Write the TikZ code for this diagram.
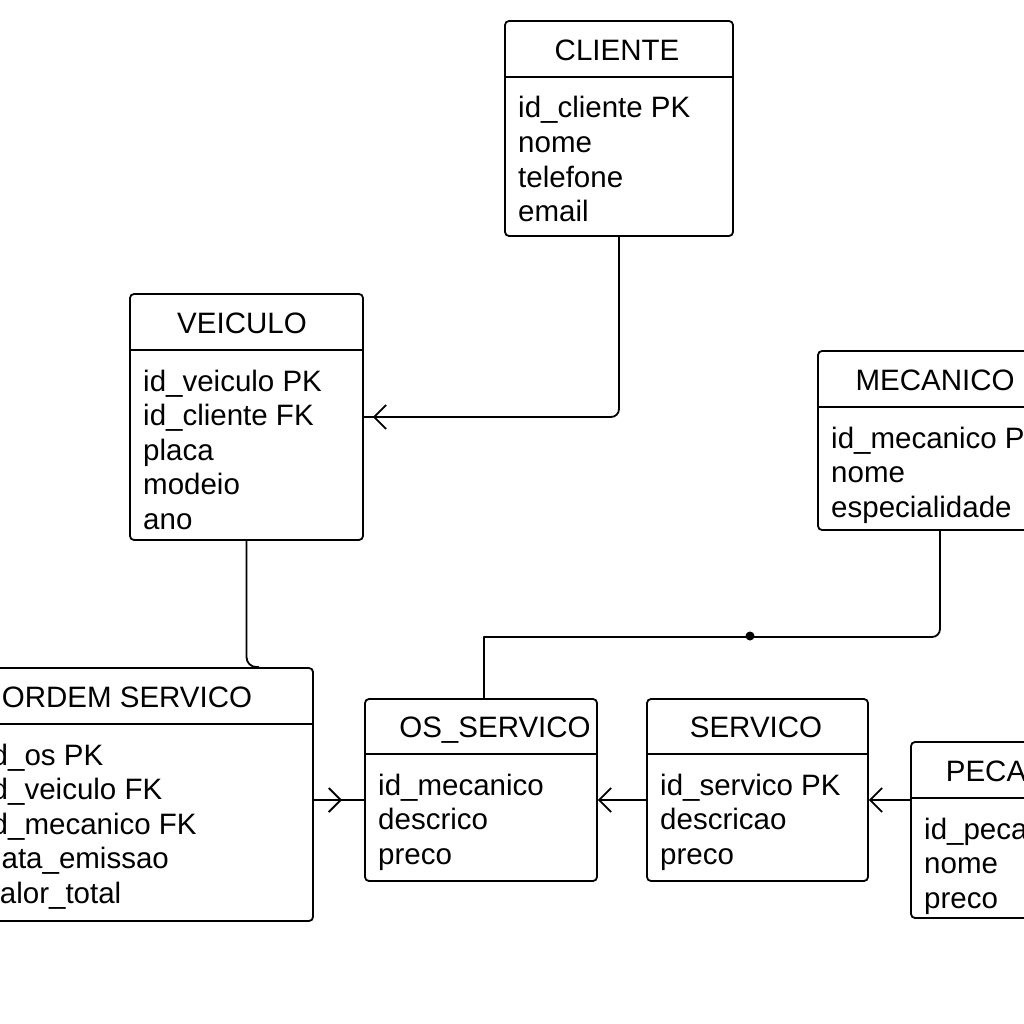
\documentclass[tikz,border=0pt]{standalone}
\usepackage{fontspec}
\setmainfont{Liberation Sans}
\usetikzlibrary{arrows.meta,decorations.markings}

\tikzset{
  erbox/.style={draw, line width=1.8pt, rounded corners=4pt, inner sep=0pt},
  ertitle/.style={anchor=base, inner sep=0pt, font=\fontsize{29.5}{35}\selectfont},
  erattr/.style={anchor=base west, inner sep=0pt, font=\fontsize{29.5}{35}\selectfont},
  erline/.style={line width=1.8pt},
  conn/.style={line width=1.8pt, line cap=round, line join=round},
  barb/.tip={Straight Barb[length=12pt, width=24pt]},
  markarrow/.style={postaction={decorate},
    decoration={markings, mark=at position #1 with {\arrow{barb}}}}
}

% name, left, top, right, bottom, separator, title x, title, rows
\newcommand{\entitybox}[9]{%
  \node[erbox, minimum width={(#4)-(#2)}, minimum height={(#5)-(#3)}] (#1)
    at ({((#2)+(#4))/2},{((#3)+(#5))/2}) {};
  \draw[erline] (#1.west |- 0,#6) -- (#1.east |- 0,#6);
  \node[ertitle] (#1-title) at (#7,{#6-16.5}) {#8};
  \foreach \row [count=\i] in {#9}
    \node[erattr] (#1-\i) at ({(#2)+13},{#6+41+34.6*(\i-1)}) {\row};
}

\begin{document}
\begin{tikzpicture}[x=1pt, y=-1pt]
  \useasboundingbox (0,0) rectangle (1024,1024);
  \clip (0,0) rectangle (1024,1024);

  % Entities
  \entitybox{cliente}{505}{21}{733}{236}{77}{617}{CLIENTE}
    {id\_cliente PK, nome, telefone, email}
  \entitybox{veiculo}{130}{294}{363}{540}{350}{242}{VEICULO}
    {id\_veiculo PK, id\_cliente FK, placa, modeio, ano}
  \entitybox{mecanico}{818}{351}{1062}{530}{407}{935}{MECANICO}
    {id\_mecanico PK, nome, especialidade}
  \entitybox{ordem}{-28}{668}{313}{921}{724}{127}{ORDEM SERVICO}
    {id\_os PK, id\_veiculo FK, id\_mecanico FK, data\_emissao, valor\_total}
  \entitybox{os}{365}{699}{597}{881}{754}{495}{OS\_SERVICO}
    {id\_mecanico, descrico, preco}
  \entitybox{servico}{647}{699}{868}{881}{754}{756}{SERVICO}
    {id\_servico PK, descricao, preco}
  \entitybox{peca}{911}{742}{1061}{918}{798}{986}{PECA}
    {id\_peca, nome, preco}

  % Relationships
  \coordinate (link) at (0,800);
  \coordinate (bend) at ([xshift=3pt]os.north |- 0,637);
  \coordinate (mecdot) at (750,636);

  \draw[conn, rounded corners=8pt, markarrow=-9pt]
    (cliente.south) |- (veiculo.east);
  \draw[conn, rounded corners=10pt]
    (veiculo.south) |- ([xshift=12pt]veiculo.south |- ordem.north);
  \draw[conn, markarrow=0.56] (ordem.east |- link) -- (os.west |- link);
  \draw[conn, -barb] (servico.west |- link) -- (os.east |- link);
  \draw[conn, -barb] (peca.west |- link) -- (servico.east |- link);
  \draw[conn] (bend) -- ([xshift=3pt]os.north);
  \draw[conn, rounded corners=8pt] (bend) -| (mecanico.south);
  \fill (mecdot) circle (4.5pt);
\end{tikzpicture}
\end{document}
